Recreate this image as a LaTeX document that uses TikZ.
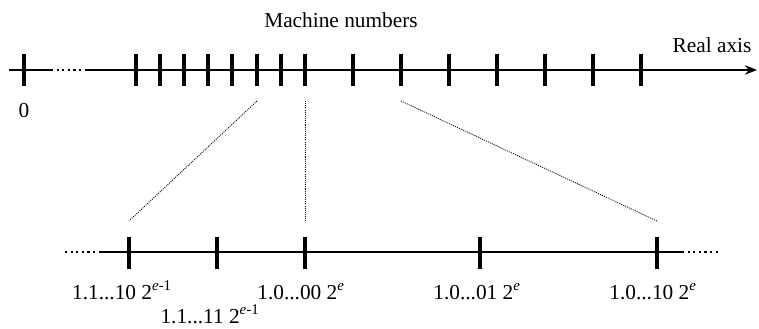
\documentclass[tikz,border=0pt]{standalone}
\usepackage{fontspec}
\setmainfont{Liberation Serif}
\usetikzlibrary{arrows.meta}

\tikzset{
  axisline/.style={line width=1.6pt},
  axisdots/.style={line width=1.6pt, dash pattern=on 1.6pt off 2.6pt},
  numtick/.style={line width=3.2pt},
  zoomline/.style={line width=0.6pt, dash pattern=on 0.8pt off 0.8pt},
  lbl/.style={anchor=base, inner sep=0pt, font=\fontsize{16}{19}\selectfont}
}

\begin{document}
\begin{tikzpicture}[x=0.75pt,y=-0.75pt]
\useasboundingbox (0,0) rectangle (759,328);
% upper axis: the real numbers
\coordinate (ua) at (9,70);
\coordinate (ub) at (51,70);
\coordinate (uc) at (86,70);
\coordinate (ud) at (757,70);
\draw[axisline] (ua) -- (ub);
\draw[axisdots] (ub) -- (uc);
\draw[axisline,-{Stealth[length=9pt,width=7pt]}] (uc) -- (ud);
\draw[numtick] (24,54) -- (24,86);
\draw[numtick] (136,54) -- (136,86);
\draw[numtick] (160,54) -- (160,86);
\draw[numtick] (184,54) -- (184,86);
\draw[numtick] (208,54) -- (208,86);
\draw[numtick] (232,54) -- (232,86);
\draw[numtick] (257,54) -- (257,86);
\draw[numtick] (281,54) -- (281,86);
\draw[numtick] (305,54) -- (305,86);
\draw[numtick] (353,54) -- (353,86);
\draw[numtick] (401,54) -- (401,86);
\draw[numtick] (449,54) -- (449,86);
\draw[numtick] (497,54) -- (497,86);
\draw[numtick] (545,54) -- (545,86);
\draw[numtick] (593,54) -- (593,86);
\draw[numtick] (641,54) -- (641,86);
\node[lbl] (zero) at (24,117) {0};
\node[lbl] (machine) at (341,28) {Machine numbers};
\node[lbl] (realaxis) at (712,53) {Real axis};
% lower axis: one binade magnified
\coordinate (la) at (65,252);
\coordinate (lb) at (101,252);
\coordinate (lc) at (682,252);
\coordinate (ld) at (720,252);
\draw[axisdots] (la) -- (lb);
\draw[axisline] (lb) -- (lc);
\draw[axisdots] (lc) -- (ld);
\draw[numtick] (129,237) -- (129,269);
\draw[numtick] (217,237) -- (217,269);
\draw[numtick] (305,237) -- (305,269);
\draw[numtick] (480,237) -- (480,269);
\draw[numtick] (657,237) -- (657,269);
\node[lbl] (m110) at (122,299) {1.1...10 2\textsuperscript{\textit{e}-1}};
\node[lbl] (m111) at (210,323) {1.1...11 2\textsuperscript{\textit{e}-1}};
\node[lbl] (m000) at (301,299) {1.0...00 2\textsuperscript{\textit{e}}};
\node[lbl] (m001) at (477,299) {1.0...01 2\textsuperscript{\textit{e}}};
\node[lbl] (m010) at (653,299) {1.0...10 2\textsuperscript{\textit{e}}};
% zoom guides
\coordinate (ga) at (257,101);
\coordinate (gb) at (305,101);
\coordinate (gc) at (401,101);
\coordinate (ha) at (129,221);
\coordinate (hb) at (305,221);
\coordinate (hc) at (657,221);
\draw[zoomline] (ga) -- (ha);
\draw[zoomline] (gb) -- (hb);
\draw[zoomline] (gc) -- (hc);
\end{tikzpicture}
\end{document}
